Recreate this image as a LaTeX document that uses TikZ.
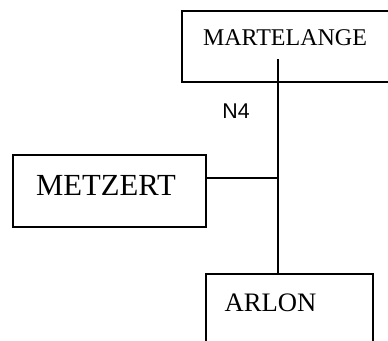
\documentclass[tikz,border=0pt]{standalone}
\usepackage{fontspec}
\setmainfont{Liberation Serif}
\newfontfamily\roadfont{Liberation Sans}
\begin{document}
\begin{tikzpicture}[x=0.75pt, y=-0.75pt, line width=1.5pt]
                \tikzstyle{town}=[rectangle, draw, inner sep=0pt]
                \tikzstyle{townlabel}=[inner sep=0pt, anchor=base]
                \path[use as bounding box, clip] (0,0) rectangle (388,340);

                % the three places
                \node[town, minimum width=163.5pt, minimum height=53.25pt] (martelange) at (291, 46.5) {};
                \node[town, minimum width=144.75pt, minimum height=54pt] (metzert) at (109.5, 191) {};
                \node[town, minimum width=125.25pt, minimum height=64.5pt] (arlon) at (289.5, 317) {};

                \node[townlabel, font=\fontsize{18}{20}\selectfont] (tmartelange) at (285, 45) {MARTELANGE};
                \node[townlabel, font=\fontsize{23}{26}\selectfont] (tmetzert) at (106, 195) {METZERT};
                \node[townlabel, font=\fontsize{20}{22}\selectfont] (tarlon) at (270.5, 311.5) {ARLON};
                \node[townlabel, font=\roadfont\fontsize{16}{18}\selectfont] (road) at (236, 118) {N4};

                % the road
                \coordinate (top) at (278, 59);
                \coordinate (j) at (278, 178);
                \draw (top) -- (arlon.north -| top);
                \draw (metzert.east |- j) -- (j);
            \end{tikzpicture}
\end{document}
